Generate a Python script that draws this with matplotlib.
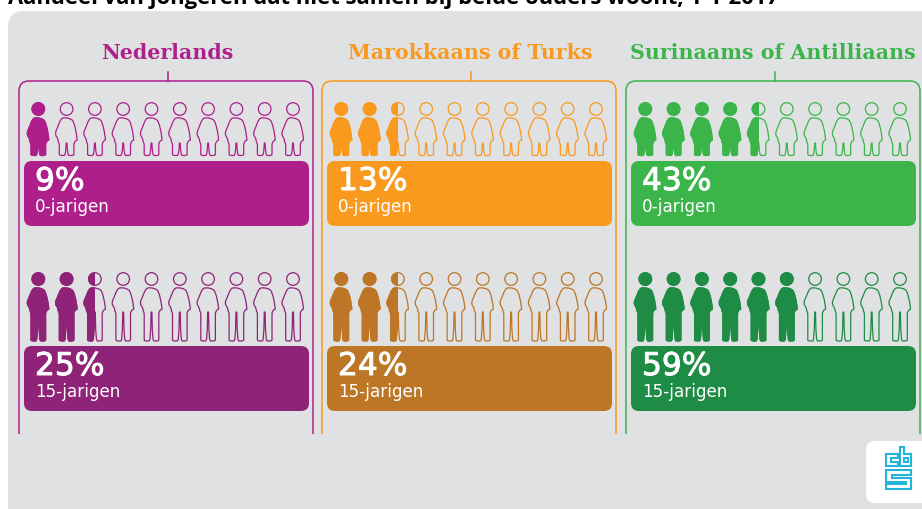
import matplotlib
matplotlib.use('Agg')
import matplotlib.pyplot as plt
import matplotlib.patheffects as pe
from matplotlib.patches import Circle, FancyBboxPatch, PathPatch, Polygon, Rectangle
from matplotlib.path import Path

# Data
title = "Aandeel van jongeren dat niet samen bij beide ouders woont, 1-1-2017"
groups = ['Nederlands', 'Marokkaans of Turks', 'Surinaams of Antilliaans']
ages = ['0-jarigen', '15-jarigen']
percent_labels = [['9%', '25%'], ['13%', '24%'], ['43%', '59%']]
icons_filled = [[1, 2.5], [2.5, 2.5], [4.5, 6]]
light_colors = ['#AE1F8C', '#F9991E', '#3BB54A']
dark_colors = ['#8E2378', '#BC7625', '#1E8C44']

GREY = '#E0E1E3'
LOGO = '#22B5D8'
N_ICONS = 10
SLAB = ['DejaVu Serif']
TITLE_FONT = ['Open Sans']
LABEL_FONT = ['DejaVu Sans']

frame_left = [19, 322, 626]
title_x = [167, 470, 773]
row_head_y = [109, 279]
row_body_bottom = [155.5, 341]
row_torso_bottom = [143, 312]
row_bar_top = [161, 346]


def body_path(cx, top, torso, bottom):
    # one closed outline, from the neck round the body and both legs
    h = torso - top
    y = lambda f: top + f * h
    verts = [
        (cx - 4, top),
        (cx - 7, y(.08)), (cx - 8, y(.28)), (cx - 9.5, y(.42)),
        (cx - 11, y(.54)), (cx - 11.5, y(.62)), (cx - 10.5, y(.72)),
        (cx - 9.5, y(.78)), (cx - 8.5, y(.84)), (cx - 8.5, y(.92)),
        (cx - 8.3, y(.97)), (cx - 7.5, torso), (cx - 7.3, torso + 2),
        (cx - 7.3, bottom - 1),
        (cx - 7, bottom), (cx - 5, bottom), (cx - 3, bottom),
        (cx - 1.2, bottom), (cx - 1, bottom - 2),
        (cx - .4, torso),
        (cx + .4, torso),
        (cx + 1, bottom - 2), (cx + 1.2, bottom), (cx + 3, bottom),
        (cx + 5, bottom), (cx + 7, bottom), (cx + 7.3, bottom - 1),
        (cx + 7.3, torso + 2),
        (cx + 7.5, torso), (cx + 8, y(.92)), (cx + 10.5, y(.88)),
        (cx + 10, y(.6)), (cx + 8, y(.22)), (cx + 6, y(.1)),
        (cx + 4, y(.02)), (cx + 0, top - .6), (cx - 4, top),
    ]
    codes = [Path.MOVETO,
             Path.CURVE4, Path.CURVE4, Path.CURVE4,
             Path.CURVE4, Path.CURVE4, Path.CURVE4,
             Path.CURVE4, Path.CURVE4, Path.CURVE4,
             Path.CURVE4, Path.CURVE4, Path.CURVE4,
             Path.LINETO,
             Path.CURVE4, Path.CURVE4, Path.CURVE4,
             Path.CURVE4, Path.CURVE4,
             Path.LINETO,
             Path.LINETO,
             Path.CURVE4, Path.CURVE4, Path.CURVE4,
             Path.CURVE4, Path.CURVE4, Path.CURVE4,
             Path.LINETO,
             Path.CURVE4, Path.CURVE4, Path.CURVE4,
             Path.CURVE4, Path.CURVE4, Path.CURVE4,
             Path.CURVE4, Path.CURVE4, Path.CURVE4]
    return Path(verts, codes)


def draw_person(ax, cx, row, color, fill):
    head_y = row_head_y[row]
    shapes = [
        lambda: Circle((cx, head_y), 6.3),
        lambda: PathPatch(body_path(cx, head_y + 9, row_torso_bottom[row], row_body_bottom[row])),
    ]
    for make in shapes:
        outline = make()
        outline.set(facecolor='none', edgecolor=color, linewidth=.9, zorder=3)
        ax.add_patch(outline)
        if fill > 0:
            solid = make()
            solid.set(facecolor=color, edgecolor=color, linewidth=.8, zorder=4)
            ax.add_patch(solid)
            if fill < 1:
                # half a person: keep only the left part of the shape
                clip = Rectangle((cx - 20, head_y - 15), 20, 100, transform=ax.transData)
                solid.set_clip_path(clip)


fig = plt.figure(figsize=(9.22, 5.09), dpi=100, facecolor='white')
ax = fig.add_axes([0, 0, 1, 1])
ax.set_xlim(0, 922)
ax.set_ylim(509, 0)
ax.axis('off')

# Panel and title
ax.add_patch(FancyBboxPatch((8, 11), 950, 540, boxstyle='round,pad=0,rounding_size=16',
                            facecolor=GREY, edgecolor='none', zorder=0))
ax.text(8, 4, title, fontsize=15.8, fontweight='bold', family=TITLE_FONT, color='black',
        va='baseline', ha='left', zorder=2)

for g, group in enumerate(groups):
    left = frame_left[g]
    right = left + 294
    mid = left + 149
    color = light_colors[g]

    ax.text(title_x[g], 53, group, fontsize=14.8, fontweight='bold', family=SLAB,
            color=color, ha='center', va='center', zorder=3)

    # frame, open at the bottom
    r = 10
    frame = Path([(left, 434), (left, 81 + r), (left, 81), (left + r, 81),
                  (right - r, 81), (right, 81), (right, 81 + r), (right, 434)],
                 [Path.MOVETO, Path.LINETO, Path.CURVE3, Path.CURVE3,
                  Path.LINETO, Path.CURVE3, Path.CURVE3, Path.LINETO])
    ax.add_patch(PathPatch(frame, facecolor='none', edgecolor=color, linewidth=1.1, zorder=2))
    ax.plot([mid, mid], [72, 81], color=color, linewidth=1.1, zorder=2)

    for row, age in enumerate(ages):
        row_color = color if row == 0 else dark_colors[g]
        filled = icons_filled[g][row]
        for i in range(N_ICONS):
            cx = left + 19.3 + i * 28.3
            draw_person(ax, cx, row, row_color, min(max(filled - i, 0), 1))

        top = row_bar_top[row]
        ax.add_patch(FancyBboxPatch((left + 13, top + 8), 269, 49,
                                    boxstyle='round,pad=8,rounding_size=8',
                                    facecolor=row_color, edgecolor='none', zorder=2))
        ax.text(left + 16, top + 20.5, percent_labels[g][row], fontsize=22.5, family=LABEL_FONT,
                color='white', ha='left', va='center', zorder=5,
                path_effects=[pe.withStroke(linewidth=.7, foreground='white')])
        ax.text(left + 16, top + 46, age, fontsize=12.1, family=LABEL_FONT, color='white',
                ha='left', va='center', zorder=5)

# CBS logo
ax.add_patch(FancyBboxPatch((875, 450), 60, 44, boxstyle='round,pad=9,rounding_size=9',
                            facecolor='white', edgecolor='none', zorder=2))
logo_shapes = [
    [(898, 454), (886, 454), (886, 466), (898, 466), (898, 462), (891, 462), (891, 458), (898, 458)],
    [(900, 447), (904, 447), (904, 454), (911, 454), (911, 466), (900, 466)],
    [(904, 458), (908, 458), (908, 462), (904, 462)],
    [(886, 470), (911, 470), (911, 475), (892, 475), (892, 478), (911, 478), (911, 489),
     (886, 489), (886, 484), (906, 484), (906, 482), (886, 482)],
]
for shape in logo_shapes:
    ax.add_patch(Polygon(shape, closed=True, facecolor='none', edgecolor=LOGO, linewidth=1.5,
                         joinstyle='miter', zorder=3))

fig.savefig('out.png', dpi=100, facecolor='white')
